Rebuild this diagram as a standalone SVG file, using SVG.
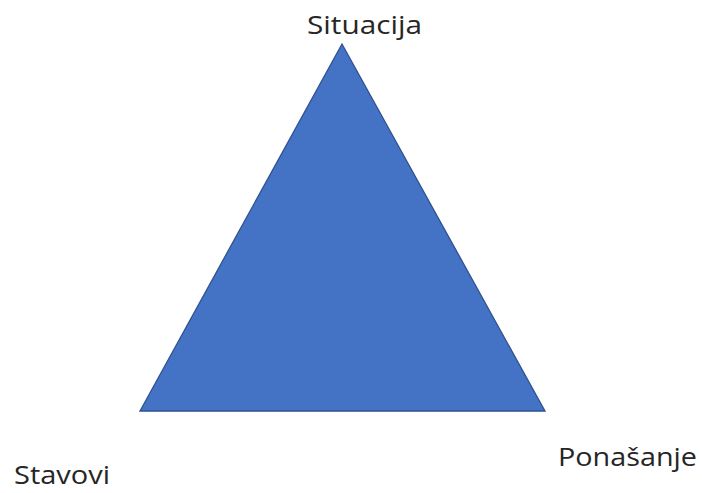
<svg xmlns="http://www.w3.org/2000/svg" width="702" height="493" viewBox="0 0 702 493">
<style>
.lbl{font-family:"Open Sans","Liberation Sans",sans-serif;font-size:25px;fill:#262626}
</style>
<rect width="702" height="493" fill="#ffffff"/>
<g id="triangle">
<polygon points="342,44 140,411 545,411" fill="#4472C4" stroke="#2F528F" stroke-width="1.3"/>
</g>
<g id="situacija"><text class="lbl" x="307" y="34" textLength="115" lengthAdjust="spacingAndGlyphs">Situacija</text></g>
<g id="stavovi"><text class="lbl" x="14" y="484" textLength="96" lengthAdjust="spacingAndGlyphs">Stavovi</text></g>
<g id="ponasanje"><text class="lbl" x="558" y="466" textLength="139" lengthAdjust="spacingAndGlyphs">Ponašanje</text></g>
</svg>
